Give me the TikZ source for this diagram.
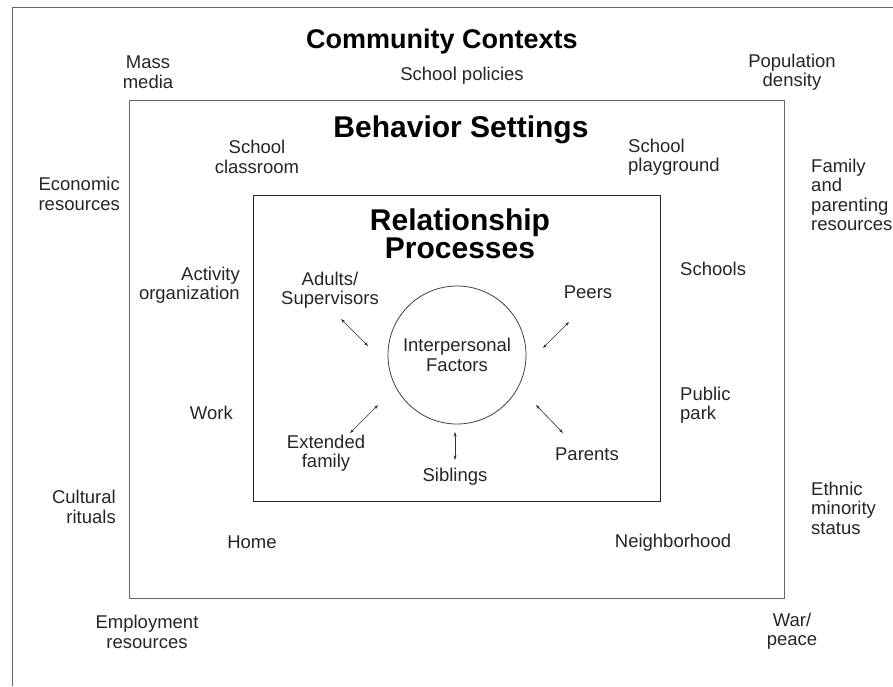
\documentclass[tikz,border=0pt]{standalone}
\usepackage{fontspec}
\setmainfont{Liberation Sans}
\usetikzlibrary{arrows.meta,positioning}
\tikzset{
  frame/.style={draw=black!60, line width=0.9pt},
  inframe/.style={draw=black!85, line width=0.9pt},
  lbl/.style={font=\fontsize{18.5}{19.5}\selectfont, text=black!85, inner sep=0pt, align=center},
  lblL/.style={lbl, align=left, anchor=west},
  lblR/.style={lbl, align=right, anchor=east},
  head/.style={font=\bfseries\fontsize{#1}{28}\selectfont, inner sep=0pt, align=center},
  link/.style={{Stealth[length=4.5pt,width=3pt]}-{Stealth[length=4.5pt,width=3pt]}, line width=0.6pt, draw=black!80},
}
\begin{document}
\begin{tikzpicture}[x=1pt,y=-1pt]
  \useasboundingbox[fill=white] (0,0) rectangle (893,686);
  % the three nested contexts
  \draw[frame] (12,686) -- (12,7) -- (893,7);
  \draw[frame] (129,100) rectangle (784,598);
  \draw[inframe] (253,195) rectangle (660,501);
  \node[head=27, anchor=base] (community) at (442,48) {Community Contexts};
  \node[head=30, anchor=base] (settings) at (461,137) {Behavior Settings};
  \node[head=30] (relation) at (460,234) {Relationship\\Processes};
  \node[lbl, circle, draw=black!75, line width=0.8pt, minimum size=138pt] (ipf) at (457,355) {Interpersonal\\Factors};
  % community level
  \node[lbl] (mass) at (148,72) {Mass\\media};
  \node[lbl] (policies) at (462,76) {School policies};
  \node[lbl] (popdens) at (792,72) {Population\\density};
  \node[lblR] (economic) at (120,194) {Economic\\resources};
  \node[lblL] (family) at (811,195) {Family\\and\\parenting\\resources};
  \node[lblR] (cultural) at (116,507) {Cultural\\rituals};
  \node[lblL] (ethnic) at (811,508) {Ethnic\\minority\\status};
  \node[lbl] (employ) at (147,632) {Employment\\resources};
  \node[lbl] (war) at (792,631) {War/\\peace};
  % behavior settings
  \node[lbl] (classroom) at (257,157) {School\\classroom};
  \node[lblL] (playground) at (628,157) {School\\playground};
  \node[lblR] (activity) at (240,285) {Activity\\organization};
  \node[lblL] (schools) at (680,269) {Schools};
  \node[lblL] (park) at (680,405) {Public\\park};
  \node[lblR] (work) at (233,413) {Work};
  \node[lbl] (home) at (252,542) {Home};
  \node[lbl] (hood) at (673,543) {Neighborhood};
  % relationship processes
  \node[lbl] (adults) at (330,290) {Adults/\\Supervisors};
  \node[lbl] (peers) at (588,292) {Peers};
  \node[lbl] (extfam) at (326,453) {Extended\\family};
  \node[lbl] (siblings) at (455,477) {Siblings};
  \node[lbl] (parents) at (587,454) {Parents};
  \coordinate (adults-a) at (341,319);   \coordinate (adults-b) at (368,346);
  \coordinate (peers-a) at (569,322);    \coordinate (peers-b) at (543,348);
  \coordinate (extfam-a) at (350,433);   \coordinate (extfam-b) at (378,405);
  \coordinate (siblings-a) at (455,460); \coordinate (siblings-b) at (455,432);
  \coordinate (parents-a) at (563,433);  \coordinate (parents-b) at (536,405);
  \draw[link] (adults-a) -- (adults-b);
  \draw[link] (peers-a) -- (peers-b);
  \draw[link] (extfam-a) -- (extfam-b);
  \draw[link] (siblings-a) -- (siblings-b);
  \draw[link] (parents-a) -- (parents-b);
\end{tikzpicture}
\end{document}
